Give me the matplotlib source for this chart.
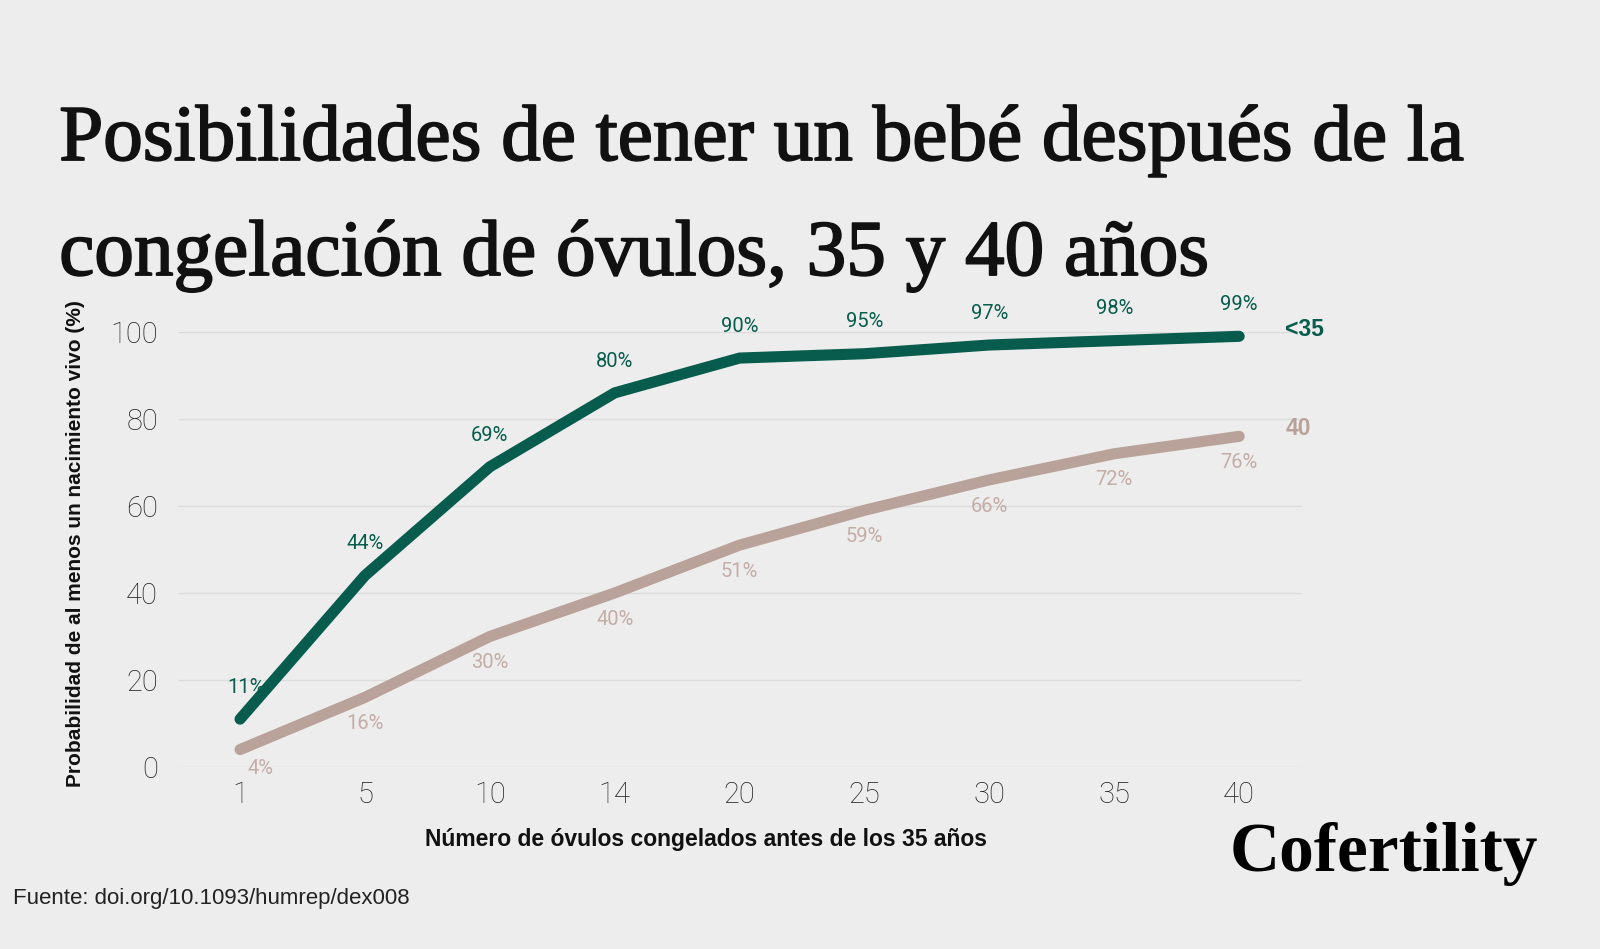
import numpy as np
import matplotlib.pyplot as plt
import matplotlib.patheffects as pe

# datos
ovulos = ['1', '5', '10', '14', '20', '25', '30', '35', '40']
menor_35 = [11, 44, 69, 86, 94, 95, 97, 98, 99]
edad_40 = [4, 16, 30, 40, 51, 59, 66, 72, 76]
etiquetas_35 = ['11%', '44%', '69%', '80%', '90%', '95%', '97%', '98%', '99%']
etiquetas_40 = ['4%', '16%', '30%', '40%', '51%', '59%', '66%', '72%', '76%']
y_ticks = [0, 20, 40, 60, 80, 100]

bg = '#ededed'
verde = '#075c4d'
marron = '#b9a29a'
marron_txt = '#c4ada5'

fig = plt.figure(figsize=(16, 9.49), dpi=100, facecolor=bg)
ax = fig.add_axes([0.111, 0.1918, 0.7025, 0.4584], facecolor=bg)

x = np.arange(len(ovulos))
ax.plot(x, menor_35, color=verde, lw=8, solid_capstyle='round', clip_on=False, zorder=3)
ax.plot(x, edad_40, color=marron, lw=8, solid_capstyle='round', clip_on=False, zorder=3)

for i in range(len(x)):
    # el primer punto lleva las etiquetas un poco a la derecha
    dx = 4 if i == 0 else 0
    ax.annotate(etiquetas_35[i], (x[i], menor_35[i]), xytext=(dx, 16), textcoords='offset points',
                ha='center', va='bottom', color=verde, fontsize=14.5, family='Roboto')
    dx = 15 if i == 0 else 0
    dy = -7 if i == 0 else -12
    ax.annotate(etiquetas_40[i], (x[i], edad_40[i]), xytext=(dx, dy), textcoords='offset points',
                ha='center', va='top', color=marron_txt, fontsize=14.5, family='Roboto')

ax.text(8.37, menor_35[-1] + 1.5, '<35', color=verde, fontsize=16.5, fontweight='bold',
        ha='left', va='center', family='Liberation Sans')
ax.text(8.37, edad_40[-1] + 1.7, '40', color=marron, fontsize=16.5, fontweight='bold',
        ha='left', va='center', family='Liberation Sans')

ax.set_xlim(-0.5, 8.5)
ax.set_ylim(0, 100)
ax.set_xticks(x)
ax.set_xticklabels(ovulos)
ax.set_yticks(y_ticks)
ax.tick_params(length=0, labelsize=21, labelcolor='#222222')
ax.tick_params(axis='x', pad=10)
ax.tick_params(axis='y', pad=14)
for lab in ax.get_xticklabels() + ax.get_yticklabels():
    lab.set_family('Roboto')
    lab.set_fontweight('light')
ax.grid(axis='y', color='#dcdcdc', lw=1)
ax.set_axisbelow(True)
for s in ax.spines.values():
    s.set_visible(False)

fig.text(0.047, 0.427, 'Probabilidad de al menos un nacimiento vivo (%)', rotation=90,
         ha='center', va='center', fontsize=15, fontweight='bold', family='Liberation Sans', color='#111111')
fig.text(0.441, 0.115, 'Número de óvulos congelados antes de los 35 años', ha='center', va='center',
         fontsize=16.5, fontweight='bold', family='Liberation Sans', color='#111111')
fig.text(0.008, 0.053, 'Fuente: doi.org/10.1093/humrep/dex008', ha='left', va='center',
         fontsize=16, family='Liberation Sans', color='#222222')

grueso = [pe.withStroke(linewidth=1.3, foreground='#111111')]
fig.text(0.037, 0.8314, 'Posibilidades de tener un bebé después de la', ha='left', va='baseline',
         fontsize=57, family='Liberation Serif', color='#111111', path_effects=grueso)
fig.text(0.037, 0.7102, 'congelación de óvulos, 35 y 40 años', ha='left', va='baseline',
         fontsize=57, family='Liberation Serif', color='#111111', path_effects=grueso)

fig.text(0.961, 0.082, 'Cofertility', ha='right', va='baseline', fontsize=50,
         fontweight='bold', family='Liberation Serif', color='#000000')

fig.savefig('out.png', dpi=100, facecolor=bg)
